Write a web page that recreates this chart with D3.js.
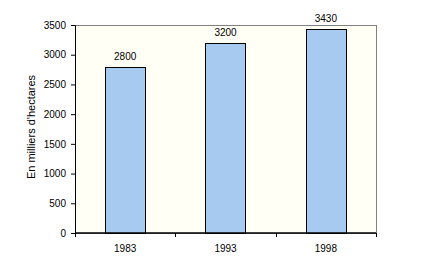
<!DOCTYPE html>
<html>
<head>
<meta charset="utf-8">
<script src="https://cdn.jsdelivr.net/npm/d3@7"></script>
<style>
  body { margin: 0; background: #fff; }
  text { font-family: Arial, "Liberation Sans", sans-serif; fill: #000; }
</style>
</head>
<body>
<div id="chart"></div>
<script>
const years = ["1983", "1993", "1998"];
const values = [2800, 3200, 3430];
const yTicks = [0, 500, 1000, 1500, 2000, 2500, 3000, 3500];
const yTitle = "En milliers d'hectares";

const W = 448, H = 274;
const margin = { top: 25, right: 72, bottom: 41, left: 75 };
const width = W - margin.left - margin.right;
const height = H - margin.top - margin.bottom;

const svg = d3.select("#chart").append("svg")
    .attr("width", W)
    .attr("height", H);

const g = svg.append("g")
    .attr("transform", `translate(${margin.left},${margin.top})`);

const x = d3.scaleBand().domain(years).range([0, width]).padding(0);
const y = d3.scaleLinear().domain([0, 3500]).range([height, 0]);

// plot background + gray frame
g.append("rect")
    .attr("x", 0).attr("y", 0)
    .attr("width", width).attr("height", height)
    .attr("fill", "#fffff5")
    .attr("stroke", "#808080")
    .attr("stroke-width", 1)
    .attr("shape-rendering", "crispEdges");

// bars
const barW = x.bandwidth() * 0.4;
g.selectAll("rect.bar")
    .data(values)
    .enter()
    .append("rect")
    .attr("class", "bar")
    .attr("x", (d, i) => Math.round(x(years[i]) + x.bandwidth() / 2 - barW / 2) + 0.5)
    .attr("y", d => Math.round(y(d)) + 0.5)
    .attr("width", Math.round(barW))
    .attr("height", d => height - Math.round(y(d)))
    .attr("fill", "#a6caf0")
    .attr("stroke", "#000")
    .attr("stroke-width", 1);

// value labels
g.selectAll("text.val")
    .data(values)
    .enter()
    .append("text")
    .attr("class", "val")
    .attr("x", (d, i) => x(years[i]) + x.bandwidth() / 2)
    .attr("y", d => y(d) - 7)
    .attr("text-anchor", "middle")
    .style("font-size", "10px")
    .text(d => d);

// y axis
const yAxis = d3.axisLeft(y).tickValues(yTicks).tickFormat(d3.format("d")).tickSize(4).tickPadding(5);
const yg = g.append("g").call(yAxis);
yg.select(".domain").attr("stroke", "#000");
yg.selectAll("text").style("font-size", "10px").attr("fill", "#000");
yg.selectAll("line").attr("stroke", "#000");

// x axis with ticks at category boundaries
const xg = g.append("g").attr("transform", `translate(0,${height})`);
xg.append("line")
    .attr("x1", 0).attr("x2", width)
    .attr("stroke", "#000")
    .attr("stroke-width", 1.5);
const bounds = years.map(d => x(d)).concat([width]);
xg.selectAll("line.tick")
    .data(bounds)
    .enter()
    .append("line")
    .attr("class", "tick")
    .attr("x1", d => Math.round(d) + 0.5)
    .attr("x2", d => Math.round(d) + 0.5)
    .attr("y1", 0)
    .attr("y2", 4)
    .attr("stroke", "#000");
xg.selectAll("text")
    .data(years)
    .enter()
    .append("text")
    .attr("x", d => x(d) + x.bandwidth() / 2)
    .attr("y", 19)
    .attr("text-anchor", "middle")
    .style("font-size", "10px")
    .text(d => d);

// y title
svg.append("text")
    .attr("transform", `translate(35,127) rotate(-90)`)
    .attr("text-anchor", "middle")
    .style("font-size", "11px")
    .text(yTitle);
</script>
</body>
</html>
